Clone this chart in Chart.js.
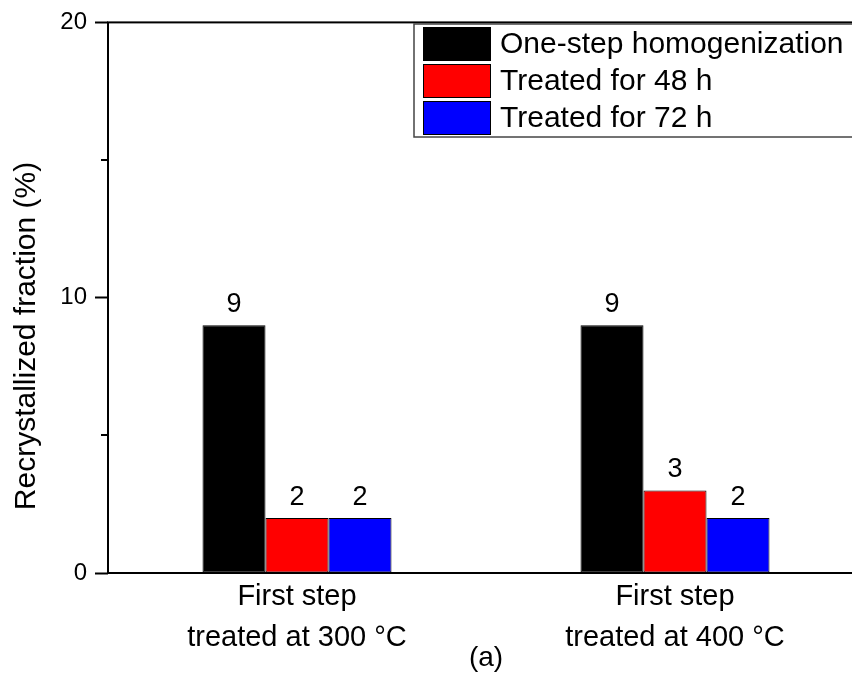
<!DOCTYPE html>
<html>
<head>
<meta charset="utf-8">
<title>Recrystallized fraction</title>
<script src="https://cdn.jsdelivr.net/npm/chart.js@4/dist/chart.umd.min.js"></script>
<style>
  html, body { margin: 0; padding: 0; background: #fff; overflow: hidden; }
  #wrap { width: 864px; height: 688px; }
</style>
</head>
<body>
<div id="wrap"><canvas id="chart" width="864" height="688"></canvas></div>
<script>
/**
 * Recrystallized fraction bar chart, panel (a).
 *
 * - Data lives in the small arrays below.
 * - Frame, minor ticks, value labels and the boxed legend are drawn by
 *   small plugins so they sit where the original figure has them.
 */
(function () {
  'use strict';

  const categories = [
    ['First step', 'treated at 300 °C'],
    ['First step', 'treated at 400 °C'],
  ];
  const seriesNames = ['One-step homogenization', 'Treated for 48 h', 'Treated for 72 h'];
  const oneStep = [9, 9];
  const treated48h = [2, 3];
  const treated72h = [2, 2];
  const seriesColors = ['#000000', '#ff0000', '#0000ff'];
  const yTicks = [0, 10, 20];
  const yMinorTicks = [5, 15];
  const yTitle = 'Recrystallized fraction (%)';
  const xTitle = '(a)';

  const FONT = 'Arial, "Liberation Sans", sans-serif';

  Chart.defaults.color = '#000';
  Chart.defaults.font.family = FONT;

  /**
   * Plugin: box frame around the plot area plus short minor ticks.
   */
  const framePlugin = {
    id: 'frame',
    afterDatasetsDraw: function (chart) {
      const ctx = chart.ctx;
      const area = chart.chartArea;
      const y = chart.scales.y;
      ctx.save();
      ctx.strokeStyle = '#000';
      ctx.lineWidth = 2;
      ctx.strokeRect(area.left, area.top, area.right - area.left, area.bottom - area.top);
      yMinorTicks.forEach(function (v) {
        const py = Math.round(y.getPixelForValue(v));
        ctx.beginPath();
        ctx.moveTo(area.left - 7, py);
        ctx.lineTo(area.left, py);
        ctx.stroke();
      });
      ctx.restore();
    },
  };

  /**
   * Plugin: numbers above each bar and the rotated y title.
   */
  const labelsPlugin = {
    id: 'barLabels',
    afterDatasetsDraw: function (chart) {
      const ctx = chart.ctx;
      ctx.save();
      ctx.fillStyle = '#000';
      ctx.font = '27px ' + FONT;
      ctx.textAlign = 'center';
      ctx.textBaseline = 'alphabetic';
      chart.data.datasets.forEach(function (ds, i) {
        chart.getDatasetMeta(i).data.forEach(function (bar, j) {
          ctx.fillText(String(ds.data[j]), bar.x, bar.y - 13);
        });
      });

      // Y title sits a little below the axis middle in the original.
      ctx.translate(27, 336);
      ctx.rotate(-Math.PI / 2);
      ctx.font = '30px ' + FONT;
      ctx.textBaseline = 'middle';
      ctx.fillText(yTitle, 0, 0);
      ctx.restore();
    },
  };

  /**
   * Plugin: legend box in the upper right corner of the plot.
   */
  const boxLegendPlugin = {
    id: 'boxLegend',
    afterDraw: function (chart) {
      const ctx = chart.ctx;
      const left = 414;
      const top = 24;
      const right = chart.chartArea.right - 6;
      const rowH = 37;
      const sw = 68;
      const sh = 34;
      const rows = chart.data.datasets.length;

      ctx.save();
      ctx.fillStyle = '#fff';
      ctx.fillRect(left, top, right - left, rows * rowH + 2);
      ctx.strokeStyle = '#444';
      ctx.lineWidth = 1.5;
      ctx.strokeRect(left, top, right - left, rows * rowH + 2);

      ctx.font = '30px ' + FONT;
      ctx.textAlign = 'left';
      ctx.textBaseline = 'middle';
      chart.data.datasets.forEach(function (ds, i) {
        const y0 = top + 3 + i * rowH;
        ctx.fillStyle = ds.backgroundColor;
        ctx.fillRect(left + 9, y0, sw, sh);
        ctx.strokeStyle = '#000';
        ctx.lineWidth = 1;
        ctx.strokeRect(left + 9.5, y0 + 0.5, sw - 1, sh - 1);
        ctx.fillStyle = '#000';
        ctx.fillText(ds.label, left + 86, y0 + sh / 2 + 1);
      });
      ctx.restore();
    },
  };

  const values = [oneStep, treated48h, treated72h];

  new Chart(document.getElementById('chart'), {
    type: 'bar',
    data: {
      labels: categories,
      datasets: values.map(function (data, i) {
        return {
          label: seriesNames[i],
          data: data,
          backgroundColor: seriesColors[i],
          borderColor: '#000',
          borderWidth: 1,
          borderSkipped: false,
          categoryPercentage: 0.5,
          barPercentage: 1,
        };
      }),
    },
    options: {
      responsive: false,
      animation: false,
      layout: {
        padding: { top: 22, left: 0, right: 0, bottom: 0 },
      },
      plugins: {
        legend: { display: false },
        tooltip: { enabled: false },
      },
      scales: {
        x: {
          grid: { display: false, drawTicks: false },
          border: { display: false },
          ticks: {
            padding: 4,
            font: { size: 29, lineHeight: 1.41 },
            maxRotation: 0,
          },
          title: {
            display: true,
            text: xTitle,
            font: { size: 28 },
            padding: { top: 0, bottom: 13 },
          },
          afterFit: function (scale) {
            scale.height = 115;
          },
        },
        y: {
          min: 0,
          max: 20,
          grid: {
            drawOnChartArea: false,
            tickLength: 13,
            tickWidth: 2,
            tickColor: '#000',
          },
          border: { display: false },
          ticks: {
            padding: 8,
            font: { size: 24 },
          },
          afterBuildTicks: function (scale) {
            scale.ticks = yTicks.map(function (v) {
              return { value: v };
            });
          },
          afterFit: function (scale) {
            scale.width = 108;
          },
        },
      },
    },
    plugins: [framePlugin, labelsPlugin, boxLegendPlugin],
  });
})();
</script>
</body>
</html>
